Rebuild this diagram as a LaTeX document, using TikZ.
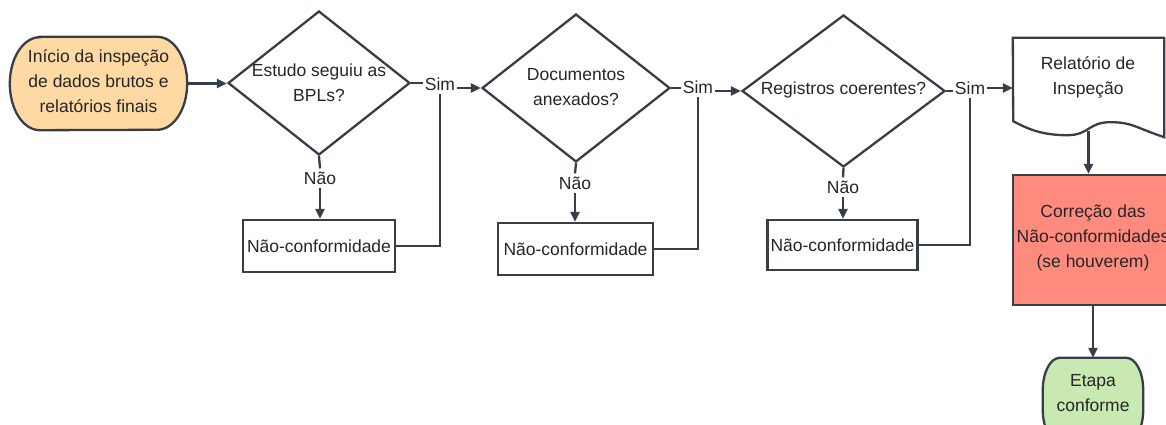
\documentclass[tikz,border=0pt]{standalone}
\usepackage{fontspec}
\setmainfont{Liberation Sans}
\usetikzlibrary{shapes.geometric,arrows.meta,calc}
\definecolor{ink}{HTML}{383E47}
\definecolor{txt}{HTML}{262626}
\definecolor{startfill}{HTML}{FED9A3}
\definecolor{fixfill}{HTML}{FF8B7E}
\definecolor{endfill}{HTML}{C8E9B2}

\begin{document}
\begin{tikzpicture}[x=1pt,y=-1pt,
  font=\fontsize{17.5}{25}\selectfont, text=txt,
  line/.style={draw=ink, line width=2.3pt},
  arr/.style={line, -{Triangle[length=10pt,width=9pt]}},
  frame/.style={draw=none, inner sep=0pt},
  dia/.style={shape=diamond, line, fill=white, inner sep=0pt},
  stepbox/.style={rectangle, line, fill=white, inner sep=3pt, minimum height=50pt},
  caption/.style={align=center, inner sep=0pt},
  lbl/.style={inner xsep=1.5pt, inner ysep=3pt},
]
\useasboundingbox (0,0) rectangle (1166,425);

% start terminator
\node[frame, minimum width=177pt, minimum height=93pt] (start) at (98.5,83.5) {};
\path[line, fill=startfill]
  ([xshift=30pt]start.north west) -- ([xshift=-30pt]start.north east)
  arc[start angle=90, end angle=-90, x radius=30pt, y radius=46.5pt]
  -- ([xshift=30pt]start.south west)
  arc[start angle=270, end angle=90, x radius=30pt, y radius=46.5pt] -- cycle;
\node[caption] (startt) at (98.5,81) {Início da inspeção\\de dados brutos e\\relatórios finais};

% decisions
\node[dia, minimum width=182pt, minimum height=144pt] (d1) at (319,83) {};
\node[caption] (d1t) at (319,83) {Estudo seguiu as\\BPLs?};
\node[dia, minimum width=188pt, minimum height=148pt] (d2) at (576,88) {};
\node[caption] (d2t) at (576,87) {Documentos\\anexados?};
\node[dia, minimum width=203pt, minimum height=152pt] (d3) at (843.5,91) {};
\node[caption] (d3t) at (843.5,90) {Registros coerentes?};

% non-conformity boxes
\node[stepbox, minimum width=152pt, minimum height=52pt] (b1) at (319,246) {Não-conformidade};
\node[stepbox, minimum width=155pt, minimum height=52pt] (b2) at (575.5,249) {Não-conformidade};
\node[stepbox, minimum width=149pt] (b3) at (842.5,245) {Não-conformidade};

% report document
\node[frame, minimum width=151pt, minimum height=99pt] (doc) at (1088.5,87.5) {};
\draw[line, fill=white] (doc.north west) -- (doc.north east) -- (doc.south east)
  .. controls +(-30,-10) and +(22,0) .. ++(-54,-15)
  .. controls +(-22,0) and +(22,0) .. ++(-43,13)
  .. controls +(-25,0) and +(15,8) .. ++(-54,-14)
  -- cycle;
\node[caption] (doct) at (1088,77) {Relatório de\\Inspeção};

% correction step
\node[rectangle, line, fill=fixfill, minimum width=162pt, minimum height=130pt, inner sep=0pt] (fix) at (1094,240) {};
\node[caption] (fixt) at (1093,238) {Correção das\\Não-conformidades\\(se houverem)};

% final terminator
\node[frame, minimum width=100pt, minimum height=84pt] (done) at (1093,400) {};
\path[line, fill=endfill]
  ([xshift=17pt]done.north west) -- ([xshift=-17pt]done.north east)
  arc[start angle=90, end angle=0, x radius=17pt, y radius=32pt]
  -- ([yshift=32pt]done.south east)
  arc[start angle=0, end angle=-90, x radius=17pt, y radius=32pt]
  -- ([xshift=17pt]done.south west)
  arc[start angle=270, end angle=180, x radius=17pt, y radius=32pt]
  -- ([yshift=-32pt]done.north west)
  arc[start angle=180, end angle=90, x radius=17pt, y radius=32pt] -- cycle;
\node[caption] (donet) at (1093,393) {Etapa\\conforme};

% labels
\node[lbl] (s1) at (440,84) {Sim};
\node[lbl] (s2) at (698,87) {Sim};
\node[lbl] (s3) at (970,88) {Sim};
\node[lbl] (n1) at (320,178) {Não};
\node[lbl] (n2) at (575,183) {Não};
\node[lbl] (n3) at (843,187) {Não};

% connectors
\draw[arr] (start.east) -- (start.east -| d1.west);
\draw[line] (d1.east) -- (s1.west |- d1.east);
\draw[arr] (s1.east |- d2.west) -- (d2.west);
\draw[line] (d2.east) -- (s2.west |- d2.east);
\draw[arr] (s2.east |- d3.west) -- (d3.west);
\draw[line] (d3.east) -- (s3.west |- d3.east);
\draw[arr] (s3.east) -- (s3.east -| doc.west);

\draw[line] (d1.south) -- (n1.north);
\draw[arr] (n1.south) -- (n1.south |- b1.north);
\draw[line] (d2.south) -- (n2.north);
\draw[arr] (n2.south) -- (n2.south |- b2.north);
\draw[line] (d3.south) -- (n3.north);
\draw[arr] (n3.south) -- (n3.south |- b3.north);

\draw[line] (b1.east) -| (s1.south);
\draw[line] (b2.east) -| (s2.south);
\draw[line] (b3.east) -| (s3.south);

\draw[arr] ([yshift=6pt]doc.south) -- (doc.south |- fix.north);
\draw[arr] (fix.south -| done.north) -- (done.north);
\end{tikzpicture}
\end{document}
